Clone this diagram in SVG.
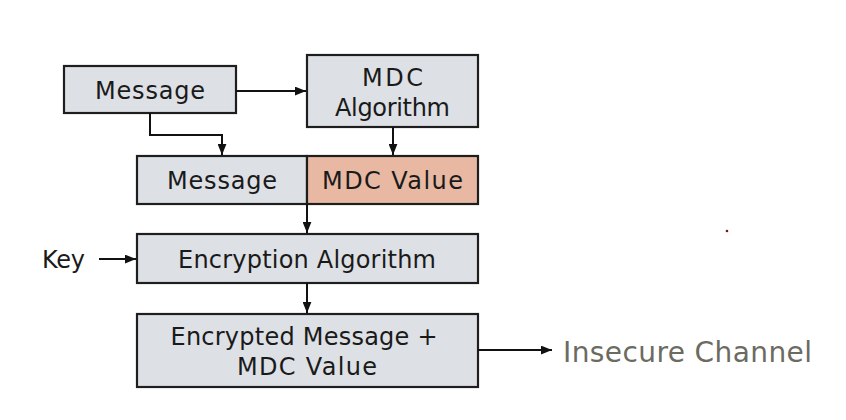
<svg xmlns="http://www.w3.org/2000/svg" width="846" height="420" viewBox="0 0 846 420">
<defs>
<marker id="ah" viewBox="0 0 10 8" refX="10" refY="4" markerWidth="11" markerHeight="9" markerUnits="userSpaceOnUse" orient="auto">
<path d="M0,0 L10,4 L0,8 Z" fill="#111"/>
</marker>
<style>
.box{fill:#dde0e5;stroke:#1e1e1e;stroke-width:2.2}
.val{fill:#e8b8a2;stroke:#1e1e1e;stroke-width:2.2}
.t{font-family:"DejaVu Sans","Liberation Sans",sans-serif;font-size:24px;fill:#1a1a1a;text-anchor:middle}
.c{fill:none;stroke:#111;stroke-width:2}
</style>
</defs>
<rect width="846" height="420" fill="#ffffff"/>
<g id="message-top">
<rect class="box" x="64" y="66" width="172" height="47"/>
<text class="t" x="150" y="99" textLength="110">Message</text>
</g>
<g id="mdc-algorithm">
<rect class="box" x="307" y="55" width="171" height="72"/>
<text class="t" x="392.5" y="86" textLength="61">MDC</text>
<text class="t" x="392.5" y="116" textLength="115">Algorithm</text>
</g>
<g id="message-mdc">
<rect class="box" x="137" y="156" width="170" height="48"/>
<text class="t" x="222" y="189" textLength="110">Message</text>
<rect class="val" x="307" y="156" width="171" height="48"/>
<text class="t" x="392.5" y="189" textLength="141">MDC Value</text>
</g>
<g id="key">
<text class="t" x="63.5" y="268" textLength="43">Key</text>
</g>
<g id="encryption">
<rect class="box" x="137" y="234" width="341" height="49"/>
<text class="t" x="307" y="268" textLength="258">Encryption Algorithm</text>
</g>
<g id="encrypted">
<rect class="box" x="137" y="314" width="341" height="73"/>
<text class="t" x="304" y="345" textLength="267">Encrypted Message +</text>
<text class="t" x="307" y="375" textLength="140">MDC Value</text>
</g>
<g id="insecure">
<text x="563" y="362" font-family="DejaVu Sans, Verdana, sans-serif" font-size="28" fill="#6b6b5f" textLength="249">Insecure Channel</text>
</g>
<g id="connectors">
<path class="c" d="M236,91 H306" marker-end="url(#ah)"/>
<path class="c" d="M150,113 V135 H222 V155" marker-end="url(#ah)"/>
<path class="c" d="M393,127 V155" marker-end="url(#ah)"/>
<path class="c" d="M307,204 V233" marker-end="url(#ah)"/>
<path class="c" d="M99,259 H136" marker-end="url(#ah)"/>
<path class="c" d="M307,283 V313" marker-end="url(#ah)"/>
<path class="c" d="M478,350 H552" marker-end="url(#ah)"/>
</g>
<circle cx="727" cy="231" r="1.3" fill="#7a1515"/>
</svg>
